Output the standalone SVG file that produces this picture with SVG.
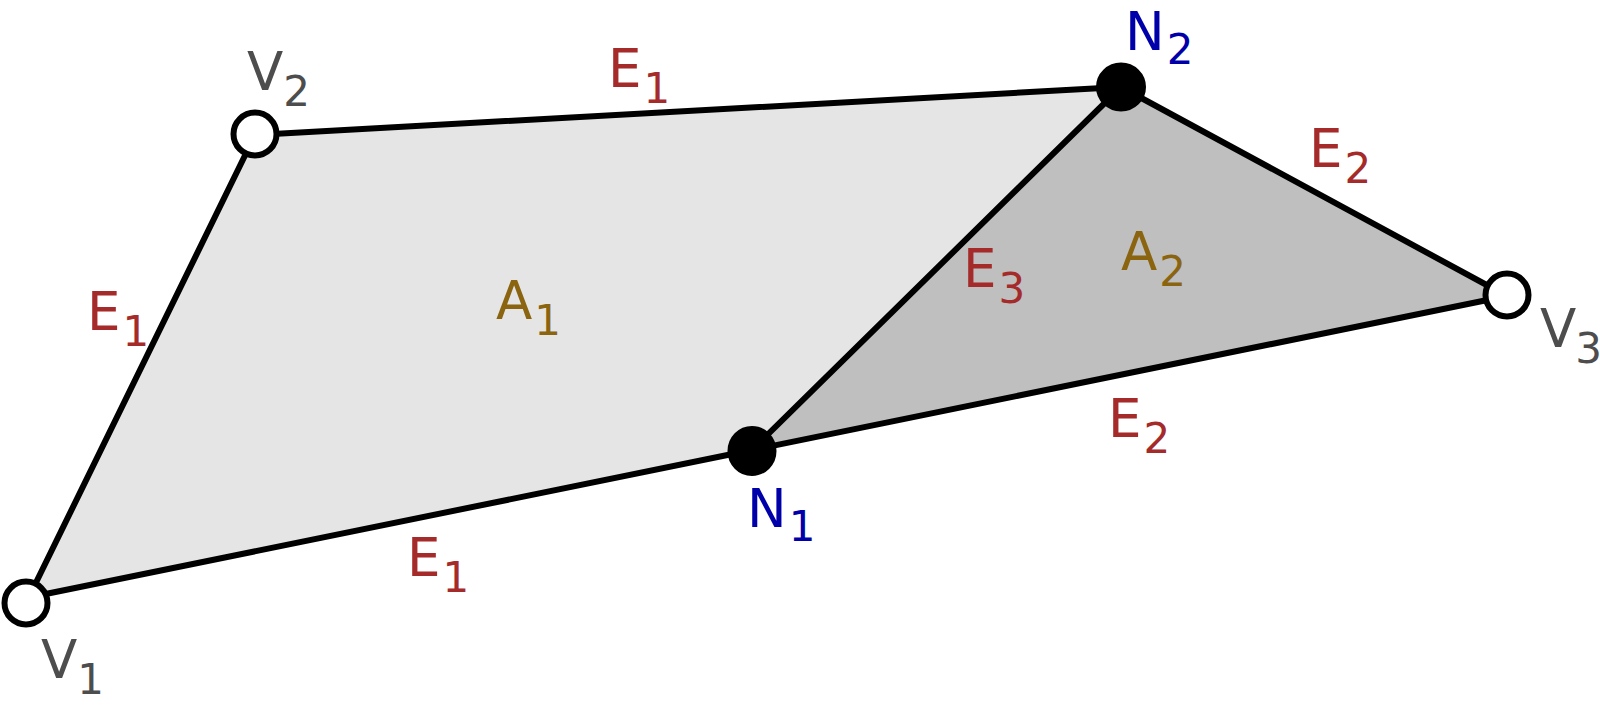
<svg xmlns="http://www.w3.org/2000/svg" width="1600" height="714" viewBox="0 0 1600 714">
<style>
.lbl{font-family:"DejaVu Sans","Liberation Sans",sans-serif;font-size:53px}
.sub{font-size:42px}
.e{fill:#a52a2a}
.n{fill:#0000aa}
.v{fill:#4d4d4d}
.a{fill:#8b6410}
.edge{stroke:#000;stroke-width:6;fill:none;stroke-linecap:round}
.vert{fill:#fff;stroke:#000;stroke-width:6}
.nod{fill:#000;stroke:#000;stroke-width:2}
</style>
<rect width="1600" height="714" fill="#fff"/>
<g id="faces">
<polygon id="A1" points="26,598 255,135 1121,87 752,450" fill="#e5e5e5"/>
<polygon id="A2" points="1121,87 1507,296 752,450" fill="#bfbfbf"/>
</g>
<g id="connectors">
<line class="edge" x1="26" y1="603" x2="255" y2="135"/>
<line class="edge" x1="255" y1="135" x2="1121" y2="87"/>
<line class="edge" x1="1121" y1="87" x2="1507" y2="296"/>
<line class="edge" x1="1507" y1="296" x2="752" y2="450"/>
<line class="edge" x1="752" y1="450" x2="26" y2="598"/>
<line class="edge" x1="752" y1="450" x2="1121" y2="87"/>
</g>
<g id="V1"><circle class="vert" cx="26" cy="603" r="21.5"/><text class="lbl v" x="41" y="678">V<tspan class="sub" dy="16">1</tspan></text></g>
<g id="V2"><circle class="vert" cx="255" cy="134" r="21.5"/><text class="lbl v" x="247" y="90">V<tspan class="sub" dy="16">2</tspan></text></g>
<g id="V3"><circle class="vert" cx="1507" cy="295" r="21.5"/><text class="lbl v" x="1540" y="347">V<tspan class="sub" dx="-1" dy="16">3</tspan></text></g>
<g id="N1"><ellipse class="nod" cx="752" cy="451" rx="23.5" ry="24"/><text class="lbl n" x="747" y="527">N<tspan class="sub" dx="2" dy="14">1</tspan></text></g>
<g id="N2"><ellipse class="nod" cx="1121" cy="87" rx="24" ry="23.5"/><text class="lbl n" x="1125" y="50">N<tspan class="sub" dx="2" dy="14">2</tspan></text></g>
<g id="labels">
<text class="lbl e" x="608" y="87">E<tspan class="sub" dx="2" dy="16">1</tspan></text>
<text class="lbl e" x="87" y="330">E<tspan class="sub" dx="2" dy="16">1</tspan></text>
<text class="lbl e" x="407" y="576">E<tspan class="sub" dx="2" dy="16">1</tspan></text>
<text class="lbl e" x="1309" y="167">E<tspan class="sub" dx="2" dy="16">2</tspan></text>
<text class="lbl e" x="1108" y="437">E<tspan class="sub" dx="2" dy="16">2</tspan></text>
<text class="lbl e" x="963" y="287">E<tspan class="sub" dx="2" dy="16">3</tspan></text>
<text class="lbl a" x="496" y="319">A<tspan class="sub" dx="2" dy="16">1</tspan></text>
<text class="lbl a" x="1121" y="270">A<tspan class="sub" dx="2" dy="16">2</tspan></text>
</g>
</svg>
